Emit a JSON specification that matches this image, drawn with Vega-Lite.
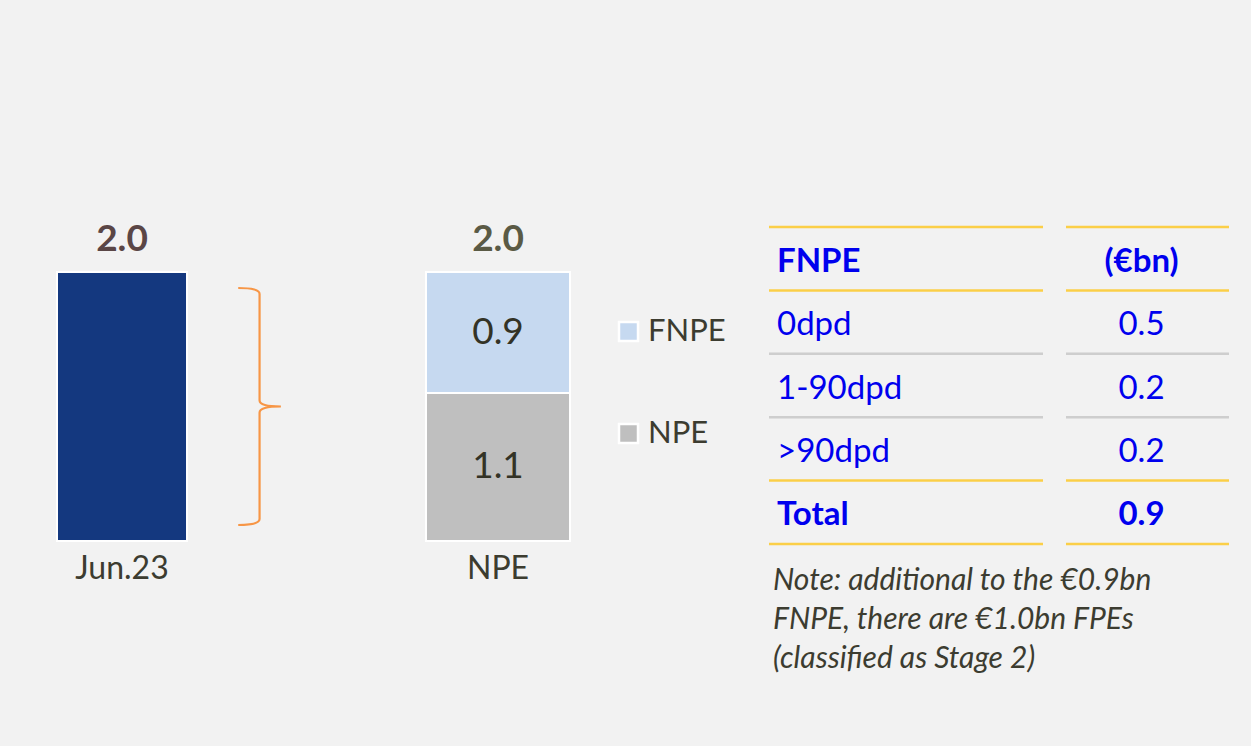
{
  "$schema": "https://vega.github.io/schema/vega-lite/v6.json",
  "width": 1251,
  "height": 746,
  "autosize": {"type": "fit", "contains": "padding"},
  "padding": 0,
  "background": "#f2f2f2",
  "config": {
    "view": {"stroke": null},
    "axis": {"disable": true},
    "font": "Lato",
    "text": {"font": "Lato"}
  },
  "datasets": {
    "bars": [
      {"category": "Jun.23", "segment": "Total", "value": 2.0},
      {"category": "NPE", "segment": "NPE", "value": 1.1},
      {"category": "NPE", "segment": "FNPE", "value": 0.9}
    ],
    "totals": [
      {"category": "Jun.23", "total": 2.0},
      {"category": "NPE", "total": 2.0}
    ],
    "table": [
      {"bucket": "FNPE", "amount": "(€bn)"},
      {"bucket": "0dpd", "amount": 0.5},
      {"bucket": "1-90dpd", "amount": 0.2},
      {"bucket": ">90dpd", "amount": 0.2},
      {"bucket": "Total", "amount": 0.9},
      {"bucket": "Note", "note": "Note: additional to the €0.9bn\nFNPE, there are €1.0bn FPEs\n(classified as Stage 2)"}
    ]
  },
  "resolve": {"scale": {"x": "independent", "y": "independent", "color": "independent"}},
  "layer": [
    {
      "layer": [
        {
          "data": {"name": "bars"},
          "transform": [{"filter": "datum.category === 'Jun.23'"}],
          "mark": {"type": "bar", "width": 130, "color": "#14387f", "stroke": "white", "strokeWidth": 2},
          "encoding": {
            "x": {"field": "category", "type": "nominal", "scale": {"type": "band", "domain": ["Jun.23", "NPE"], "paddingInner": 0.6356, "paddingOuter": 0.98135, "align": 0.07249}},
            "y": {"field": "value", "type": "quantitative", "scale": {"domain": [-1.524, 4.022], "zero": false, "nice": false}}
          }
        },
        {
          "data": {"name": "bars"},
          "transform": [{"filter": "datum.category === 'NPE'"}],
          "mark": {"type": "bar", "width": 144, "stroke": "white", "strokeWidth": 2},
          "encoding": {
            "x": {"field": "category", "type": "nominal"},
            "y": {"field": "value", "type": "quantitative", "stack": "zero"},
            "color": {
              "field": "segment", "type": "nominal",
              "scale": {"domain": ["FNPE", "NPE"], "range": ["#c6d9f0", "#bfbfbf"]},
              "legend": {
                "title": null, "orient": "none", "legendX": 613, "legendY": 316, "padding": 0,
                "symbolType": "square", "symbolSize": 361, "symbolStrokeColor": "white", "symbolStrokeWidth": 2.5,
                "labelFont": "Lato", "labelFontSize": 31, "labelColor": "#3c3c30", "labelOffset": 4, "rowPadding": 70
              }
            },
            "order": {"field": "segment", "sort": "descending"}
          }
        },
        {
          "data": {"name": "bars"},
          "transform": [{"filter": "datum.category === 'NPE'"}],
          "mark": {"type": "text", "fontSize": 37, "color": "#333326", "baseline": "middle"},
          "encoding": {
            "x": {"field": "category", "type": "nominal"},
            "y": {"field": "value", "type": "quantitative", "stack": "zero", "bandPosition": 0.5},
            "detail": {"field": "segment"},
            "order": {"field": "segment", "sort": "descending"},
            "text": {"field": "value", "type": "quantitative", "format": ".1f"}
          }
        },
        {
          "data": {"name": "totals"},
          "mark": {"type": "text", "fontSize": 37, "fontWeight": "bold", "baseline": "alphabetic", "dy": -21},
          "encoding": {
            "x": {"field": "category", "type": "nominal"},
            "y": {"field": "total", "type": "quantitative"},
            "text": {"field": "total", "type": "quantitative", "format": ".1f"},
            "color": {"condition": {"test": "datum.category === 'Jun.23'", "value": "#5a4646"}, "value": "#5a5a45"}
          }
        },
        {
          "data": {"name": "totals"},
          "mark": {"type": "text", "fontSize": 32, "color": "#3c3c30", "baseline": "alphabetic", "dy": 38},
          "encoding": {
            "x": {"field": "category", "type": "nominal"},
            "y": {"datum": 0, "type": "quantitative"},
            "text": {"field": "category"}
          }
        },
        {
          "data": {"name": "totals"},
          "transform": [{"filter": "datum.category === 'Jun.23'"}],
          "mark": {
            "type": "point",
            "shape": "M -0.18 -1 Q 0 -1 0 -0.95 L 0 -0.05 Q 0 0 0.18 0 Q 0 0 0 0.05 L 0 0.95 Q 0 1 -0.18 1",
            "size": 56169, "filled": false, "color": "#f79646", "strokeWidth": 2.2, "opacity": 1
          },
          "encoding": {
            "x": {"field": "category", "type": "nominal", "bandPosition": 1.504},
            "y": {"field": "total", "type": "quantitative", "stack": "zero", "bandPosition": 0.5}
          }
        }
      ]
    },
    {
      "data": {"name": "table"},
      "layer": [
        {
          "mark": {"type": "tick", "orient": "horizontal", "size": 274, "thickness": 2.5},
          "encoding": {
            "x": {"datum": "bucket", "type": "nominal", "scale": {"type": "band", "domain": ["bucket", "amount"], "range": [806, 1247.5], "paddingInner": 0.1718, "paddingOuter": 0}},
            "y": {"field": "bucket", "type": "nominal", "bandPosition": 0, "scale": {"type": "band", "domain": ["FNPE", "0dpd", "1-90dpd", ">90dpd", "Total", "Note"], "range": [227, 607.4], "paddingInner": 0, "paddingOuter": 0}},
            "color": {"condition": {"test": "datum.bucket === '1-90dpd' || datum.bucket === '>90dpd'", "value": "#bfbfbf"}, "value": "#ffc000"}
          }
        },
        {
          "mark": {"type": "tick", "orient": "horizontal", "size": 163, "thickness": 2.5},
          "encoding": {
            "x": {"datum": "amount", "type": "nominal"},
            "y": {"field": "bucket", "type": "nominal", "bandPosition": 0},
            "color": {"condition": {"test": "datum.bucket === '1-90dpd' || datum.bucket === '>90dpd'", "value": "#bfbfbf"}, "value": "#ffc000"}
          }
        },
        {
          "transform": [{"filter": "datum.bucket === 'FNPE' || datum.bucket === 'Total'"}],
          "mark": {"type": "text", "align": "left", "baseline": "middle", "fontSize": 33, "fontWeight": "bold", "color": "#0000ee", "dx": -29, "dy": 3},
          "encoding": {
            "x": {"datum": "bucket", "type": "nominal", "bandPosition": 0},
            "y": {"field": "bucket", "type": "nominal"},
            "text": {"field": "bucket"}
          }
        },
        {
          "transform": [{"filter": "datum.bucket === '0dpd' || datum.bucket === '1-90dpd' || datum.bucket === '>90dpd'"}],
          "mark": {"type": "text", "align": "left", "baseline": "middle", "fontSize": 33, "color": "#0000ee", "dx": -29, "dy": 3},
          "encoding": {
            "x": {"datum": "bucket", "type": "nominal", "bandPosition": 0},
            "y": {"field": "bucket", "type": "nominal"},
            "text": {"field": "bucket"}
          }
        },
        {
          "transform": [{"filter": "datum.bucket === 'FNPE' || datum.bucket === 'Total'"}],
          "mark": {"type": "text", "align": "center", "baseline": "middle", "fontSize": 33, "fontWeight": "bold", "color": "#0000ee", "dx": -6, "dy": 3},
          "encoding": {
            "x": {"datum": "amount", "type": "nominal"},
            "y": {"field": "bucket", "type": "nominal"},
            "text": {"field": "amount", "type": "nominal"}
          }
        },
        {
          "transform": [{"filter": "datum.bucket === '0dpd' || datum.bucket === '1-90dpd' || datum.bucket === '>90dpd'"}],
          "mark": {"type": "text", "align": "center", "baseline": "middle", "fontSize": 33, "color": "#0000ee", "dx": -6, "dy": 3},
          "encoding": {
            "x": {"datum": "amount", "type": "nominal"},
            "y": {"field": "bucket", "type": "nominal"},
            "text": {"field": "amount", "type": "nominal"}
          }
        },
        {
          "transform": [{"filter": "datum.bucket === 'Note'"}],
          "mark": {"type": "text", "align": "left", "baseline": "top", "fontSize": 30, "fontStyle": "italic", "color": "#3c3c30", "lineBreak": "\n", "lineHeight": 39, "dx": -33, "dy": 22},
          "encoding": {
            "x": {"datum": "bucket", "type": "nominal", "bandPosition": 0},
            "y": {"field": "bucket", "type": "nominal", "bandPosition": 0},
            "text": {"field": "note"}
          }
        }
      ]
    }
  ]
}
